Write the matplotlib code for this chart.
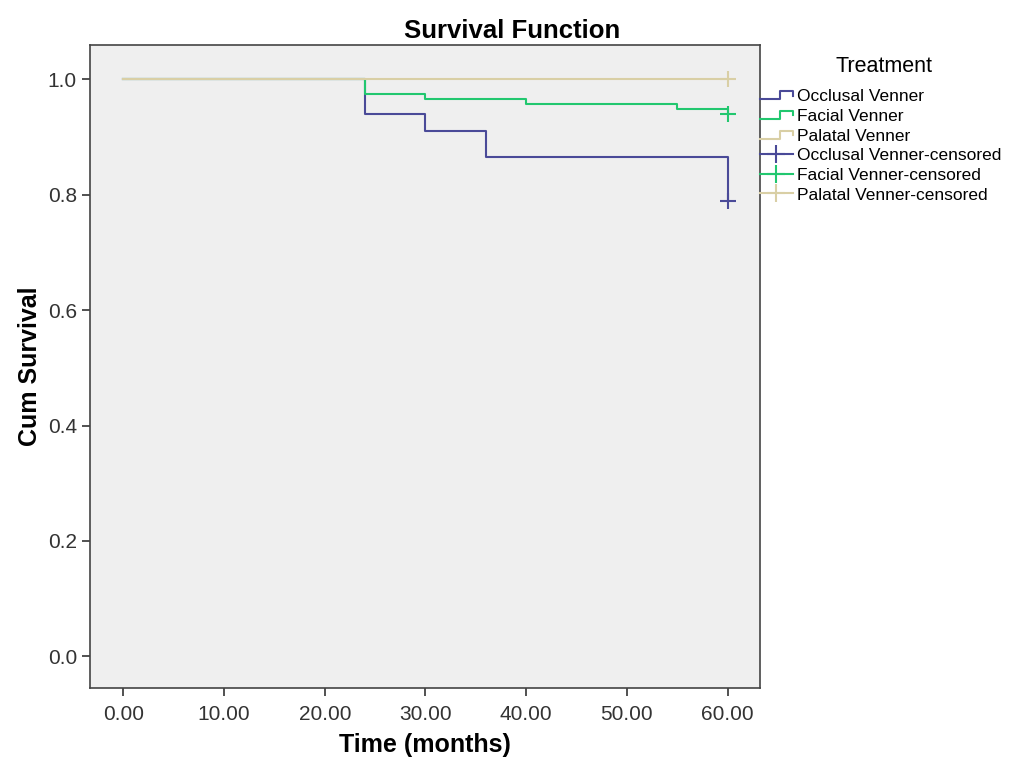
import numpy as np
import matplotlib
matplotlib.use("Agg")
import matplotlib.pyplot as plt
from matplotlib.lines import Line2D
from matplotlib.legend_handler import HandlerBase

plt.rcParams['font.family'] = ['Liberation Sans', 'DejaVu Sans']

# step data (time, cum survival)
occ_t = [0, 24, 30, 36, 60]
occ_s = [1.0, 0.94, 0.91, 0.866, 0.79]
fac_t = [0, 24, 30, 40, 55, 60]
fac_s = [1.0, 0.975, 0.966, 0.957, 0.948, 0.94]
pal_t = [0, 60]
pal_s = [1.0, 1.0]

# censored points
occ_cens = (60, 0.79)
fac_cens = (60, 0.94)
pal_cens = (60, 1.0)

labels = ["Occlusal Venner", "Facial Venner", "Palatal Venner"]
colors = ["#4a4a98", "#22c76f", "#d9cfa5"]


# legend handle drawn as a small step, like SPSS does
class HandlerStep(HandlerBase):
    def create_artists(self, legend, orig_handle, xdescent, ydescent,
                       width, height, fontsize, trans):
        x0, x1 = -xdescent, -xdescent + width
        y0, y1 = -ydescent + 0.15 * height, -ydescent + 0.8 * height
        xm = x0 + 0.6 * width
        xs = [x0, xm, xm, x1, x1]
        ys = [y0, y0, y1, y1, y1 - 0.35 * height]
        ln = Line2D(xs, ys, color=orig_handle.get_color(), lw=1.5, transform=trans)
        return [ln]


fig = plt.figure(figsize=(10.24, 7.68), dpi=100)
ax = fig.add_axes([0.088, 0.104, 0.654, 0.837])
ax.set_facecolor("#efefef")

series = [(occ_t, occ_s, occ_cens), (fac_t, fac_s, fac_cens), (pal_t, pal_s, pal_cens)]
step_handles = []
for (t, s, cens), col in zip(series, colors):
    h, = ax.step(t, s, where="post", color=col, lw=1.5)
    ax.plot(*cens, marker="+", ms=12, mew=1.5, color=col, ls="none")
    step_handles.append(h)

cens_handles = [Line2D([], [], color=c, lw=1.5, marker="+", ms=13, mew=1.5) for c in colors]

ax.set_xlim(-3.3, 63.2)
ax.set_ylim(-0.055, 1.059)
xt = np.arange(0, 61, 10)
yt = np.arange(0, 1.01, 0.2)
ax.set_xticks(xt)
ax.set_xticklabels(["%.2f" % v for v in xt])
ax.set_yticks(yt)
ax.set_yticklabels(["%.1f" % v for v in yt])
ax.tick_params(labelsize=15, length=6, width=1.2, colors="#333333")
ax.tick_params(axis="x", pad=6)
for sp in ax.spines.values():
    sp.set_color("#444444")
    sp.set_linewidth(1.2)

fig.suptitle("Survival Function", x=0.5, y=1 - 31 / 768, va="center",
             fontsize=18.5, fontweight="bold")
ax.set_xlabel("Time (months)", fontsize=18, fontweight="bold")
ax.set_ylabel("Cum Survival", fontsize=18, fontweight="bold")
ax.xaxis.set_label_coords(0.5, -0.0887)
ax.xaxis.label.set_va("center")
ax.yaxis.set_label_coords(-0.09, 0.5)
ax.yaxis.label.set_va("center")

leg = ax.legend(step_handles + cens_handles,
                labels + [l + "-censored" for l in labels],
                handler_map={h: HandlerStep() for h in step_handles},
                loc="upper left", bbox_to_anchor=(1.0, 0.932), frameon=False,
                fontsize=12.5, handlelength=1.9, handletextpad=0.25,
                labelspacing=0.26, borderaxespad=0.0, borderpad=0.0)
fig.text(884 / 1024, 1 - 67 / 768, "Treatment", ha="center", va="center", fontsize=15.5)

fig.savefig("out.png", dpi=100)
